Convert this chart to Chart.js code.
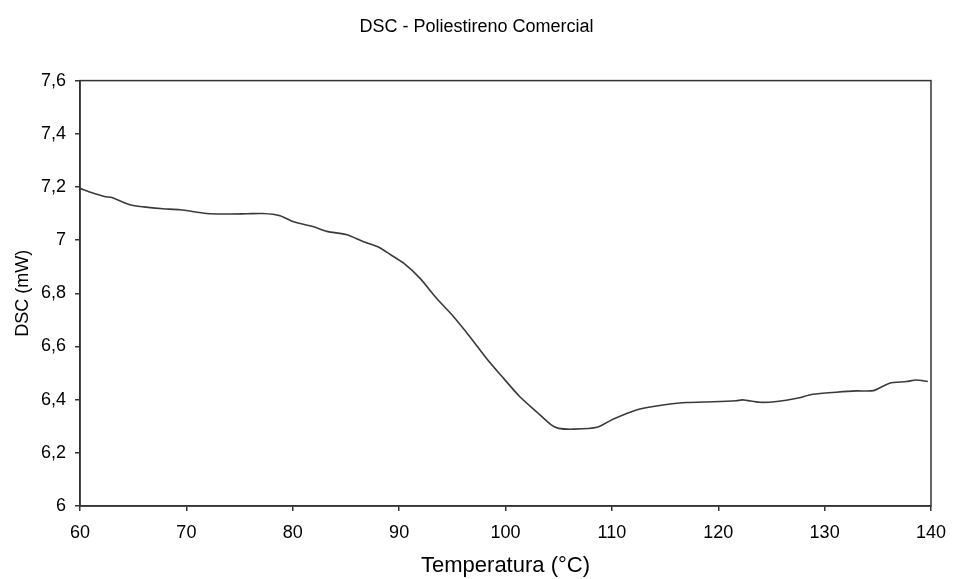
<!DOCTYPE html>
<html>
<head>
<meta charset="utf-8">
<script src="https://cdn.jsdelivr.net/npm/chart.js@4/dist/chart.umd.min.js"></script>
<style>
	body { margin: 0; background: #fff; }
	canvas { display: block; }
</style>
</head>
<body>
<canvas id="dsc" width="953" height="579"></canvas>
<script>
"use strict";

// DSC curve, commercial polystyrene (temperature in °C, heat flow in mW)
const temperatura = [
	60, 61, 62.3, 63, 64.7, 66, 67.8, 69.4, 71.9, 73.5, 75.7, 77.2, 78.8, 80,
	81.9, 83.2, 85.1, 86.6, 88, 89.2, 90.4, 91.95, 93.5, 95.1, 96.65, 98.2,
	99.8, 101.35, 102.9, 104.3, 105, 106.4, 108.6, 110.1, 112.3, 114.2, 117,
	119.5, 121.7, 122.3, 123.9, 125.5, 127.4, 128.9, 131.1, 133, 134.6, 136.1,
	137.7, 138.6, 139.7
]
const dsc = [
	7.195, 7.18, 7.164, 7.16, 7.133, 7.125, 7.118, 7.114, 7.1, 7.098, 7.099, 7.1, 7.092, 7.07,
	7.051, 7.033, 7.02, 6.995, 6.975, 6.945, 6.914, 6.857, 6.782, 6.713, 6.637, 6.556,
	6.481, 6.411, 6.355, 6.305, 6.292, 6.289, 6.296, 6.326, 6.361, 6.376, 6.389,
	6.392, 6.396, 6.399, 6.39, 6.393, 6.405, 6.42, 6.428, 6.433, 6.434, 6.462,
	6.468, 6.474, 6.468
]

const xRange = [60, 140, 10]
const yRange = [6, 7.6, 0.2]

const font = 'Arial, "Liberation Sans", Helvetica, sans-serif'
const ink = '#333'

const points = temperatura.map((t, i) => ({ x: t, y: dsc[i] }))

// frame around the plot area
const areaBox = {
	id: 'areaBox',
	afterDraw(chart) {
		const { ctx, chartArea: a } = chart
		ctx.save()
		ctx.strokeStyle = ink
		ctx.lineWidth = 1.5
		ctx.strokeRect(a.left, a.top, a.right - a.left, a.bottom - a.top)
		ctx.restore()
	}
}

new Chart(document.getElementById('dsc'), {
	type: 'line',
	data: {
		datasets: [{
			data: points,
			borderColor: '#3a3a3a',
			borderWidth: 1.6,
			pointRadius: 0,
			tension: 0.25,
			fill: false
		}]
	},
	options: {
		responsive: false,
		animation: false,
		events: [],
		layout: { padding: 0 },
		plugins: {
			legend: { display: false },
			tooltip: { enabled: false },
			title: {
				display: true,
				text: 'DSC - Poliestireno Comercial',
				color: '#000',
				font: { family: font, size: 18, weight: 'normal' },
				padding: { top: 16, bottom: 43 }
			}
		},
		scales: {
			x: {
				type: 'linear',
				min: xRange[0],
				max: xRange[1],
				afterFit(scale) {
					scale.height = 73
					scale.paddingLeft = 0
					scale.paddingRight = 0
				},
				ticks: {
					stepSize: xRange[2],
					color: '#000',
					padding: 11,
					maxRotation: 0,
					font: { family: font, size: 18 }
				},
				grid: { drawOnChartArea: false, tickLength: 5, color: ink, lineWidth: 1.5 },
				border: { color: ink, width: 1.5 },
				title: {
					display: true,
					text: 'Temperatura (°C)',
					color: '#000',
					font: { family: font, size: 22 },
					padding: { top: 0, bottom: 0 }
				}
			},
			y: {
				min: yRange[0],
				max: yRange[1],
				afterFit(scale) { scale.width = 80 },
				ticks: {
					stepSize: yRange[2],
					color: '#000',
					padding: 9,
					font: { family: font, size: 18 },
					callback: v => String(Number(v.toFixed(1))).replace('.', ',')
				},
				grid: { drawOnChartArea: false, tickLength: 5, color: ink, lineWidth: 1.5 },
				border: { color: ink, width: 1.5 },
				title: {
					display: true,
					text: 'DSC (mW)',
					color: '#000',
					font: { family: font, size: 18 },
					padding: { top: 12, bottom: 0 }
				}
			},
			// empty right margin so the title stays centred on the page
			margin: {
				position: 'right',
				min: yRange[0],
				max: yRange[1],
				afterFit(scale) { scale.width = 22 },
				ticks: { display: false },
				grid: { display: false },
				border: { display: false }
			}
		}
	},
	plugins: [areaBox]
})
</script>
</body>
</html>
